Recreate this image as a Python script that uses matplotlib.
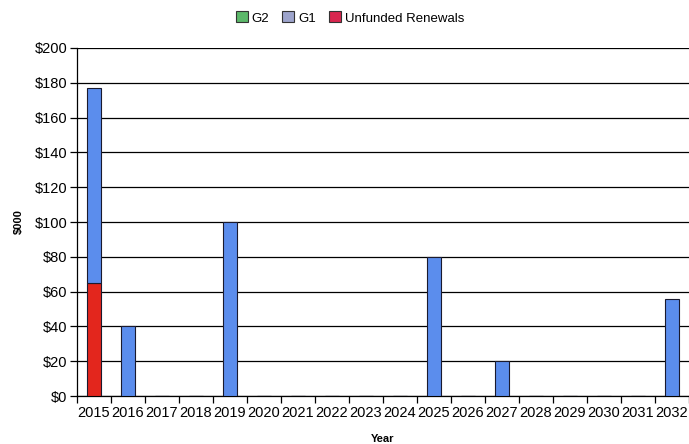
import matplotlib
matplotlib.use("Agg")
import matplotlib.pyplot as plt
from matplotlib.patches import Patch
from matplotlib.ticker import FixedLocator, FuncFormatter
import numpy as np

plt.rcParams['font.family'] = ['Liberation Sans', 'DejaVu Sans']

years = [str(y) for y in range(2015, 2033)]
unfunded = [65, 0, 0, 0, 0, 0, 0, 0, 0, 0, 0, 0, 0, 0, 0, 0, 0, 0]
g1 = [112, 40, 0, 0, 100, 0, 0, 0, 0, 0, 80, 0, 20, 0, 0, 0, 0, 56]
g2 = [0] * len(years)
yticks = [0, 20, 40, 60, 80, 100, 120, 140, 160, 180, 200]

bar_colors = {'Unfunded Renewals': '#e3261d', 'G1': '#5b8ded', 'G2': '#4caf50'}
legend_colors = {'G2': '#5cb86a', 'G1': '#9da4cc', 'Unfunded Renewals': '#d9264f'}

fig = plt.figure(figsize=(6.89, 4.44), dpi=100)
ax = fig.add_axes([77 / 689, 48 / 444, 612 / 689, 348 / 444])

x = np.arange(len(years))
w = 0.42
edge = '#1a1a2e'
ax.bar(x, unfunded, w, color=bar_colors['Unfunded Renewals'], edgecolor=edge, linewidth=0.8, zorder=3)
ax.bar(x, g1, w, bottom=unfunded, color=bar_colors['G1'], edgecolor=edge, linewidth=0.8, zorder=3)
bottom2 = np.array(unfunded) + np.array(g1)
mask = np.array(g2) > 0
if mask.any():
    ax.bar(x[mask], np.array(g2)[mask], w, bottom=bottom2[mask], color=bar_colors['G2'],
           edgecolor=edge, linewidth=0.8, zorder=3)

ax.set_xlim(-0.5, len(years) - 0.5)
ax.set_ylim(0, 200)
ax.set_yticks(yticks)
ax.yaxis.set_major_formatter(FuncFormatter(lambda v, p: f"${int(v)}"))
ax.grid(axis='y', color='black', linewidth=0.9, zorder=0)

ax.set_xticks(x)
ax.set_xticklabels(years)
ax.xaxis.set_minor_locator(FixedLocator(np.arange(-0.5, len(years), 1.0)))
ax.tick_params(axis='x', which='major', length=0, pad=7, labelsize=10.5)
ax.tick_params(axis='x', which='minor', length=5, width=0.9, color='black')
ax.tick_params(axis='y', length=5, width=0.9, labelsize=10.5, pad=2)

for s in ['top', 'right']:
    ax.spines[s].set_visible(False)
for s in ['left', 'bottom']:
    ax.spines[s].set_linewidth(0.9)

ax.set_xlabel('Year', fontsize=8, fontweight='bold', labelpad=10)
ax.set_ylabel('$000', fontsize=8, fontweight='bold', labelpad=8)

handles = [Patch(facecolor=legend_colors[k], edgecolor='#333333', linewidth=0.8, label=k)
           for k in ['G2', 'G1', 'Unfunded Renewals']]
fig.legend(handles=handles, loc='center', bbox_to_anchor=(350 / 689, 1 - 18 / 444), ncol=3,
           frameon=False, fontsize=9.5, handlelength=0.9, handleheight=0.9,
           handletextpad=0.3, columnspacing=1.0)

fig.savefig('out.png', dpi=100, facecolor='white')
